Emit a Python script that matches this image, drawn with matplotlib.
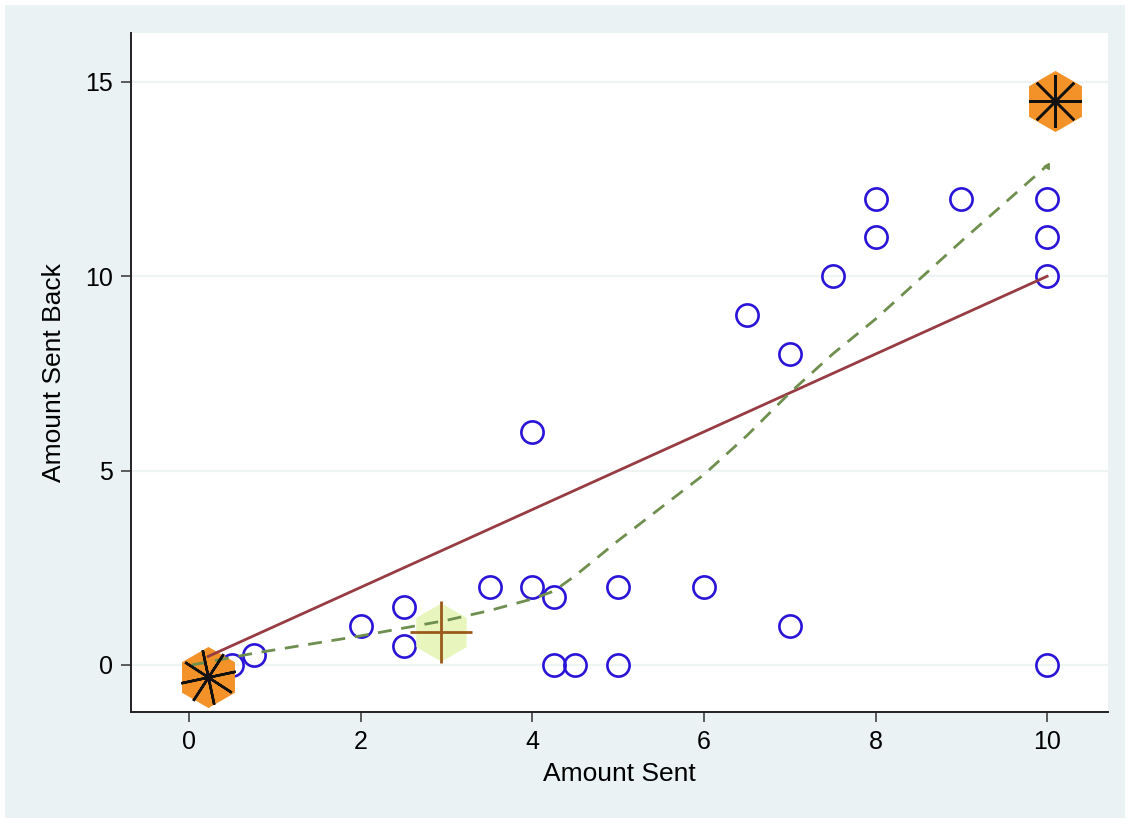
import matplotlib
matplotlib.use("Agg")
import matplotlib.pyplot as plt
from matplotlib.patches import Rectangle

plt.rcParams['font.family'] = ['Liberation Sans', 'DejaVu Sans']

# data
amount_sent = [0.5, 0.75, 2, 2.5, 2.5, 3.5, 4, 4, 4.25, 4.25, 4.5, 5, 5, 6, 6.5, 7, 7, 7.5, 8, 8, 9, 10, 10, 10, 10]
amount_back = [0, 0.25, 1, 1.5, 0.5, 2, 2, 6, 1.75, 0, 0, 2, 0, 2, 9, 8, 1, 10, 12, 11, 12, 12, 11, 10, 0]

fit_x = [0.22, 10]
fit_y = [0.22, 10]

smooth_x = [0.03, 0.75, 2.0, 2.5, 3.0, 3.5, 4.0, 4.25, 4.5, 5.0, 6.0, 6.5, 7.0, 7.5, 8.0, 9.0, 10.0]
smooth_y = [0.0, 0.3, 0.75, 0.95, 1.15, 1.4, 1.7, 1.9, 2.3, 3.2, 4.9, 5.9, 7.0, 8.0, 8.9, 10.9, 12.85]

orange_x = [0.22, 10.09]
orange_y = [-0.3, 14.5]
green_x = [2.93]
green_y = [0.85]

fig = plt.figure(figsize=(11.3, 8.23), dpi=100)
fig.patch.set_facecolor('white')
fig.patches.append(Rectangle((5/1130, 5/823), 1 - 10/1130, 1 - 10/823,
                             transform=fig.transFigure, facecolor='#eaf2f3',
                             edgecolor='none', zorder=-10))

ax = fig.add_axes([131/1130, 1 - 712/823, (1108 - 131)/1130, (712 - 33)/823])
ax.set_facecolor('white')

ax.set_xlim(-0.68, 10.71)
ax.set_ylim(-1.21, 16.26)

ax.set_yticks([0, 5, 10, 15])
ax.set_xticks([0, 2, 4, 6, 8, 10])
ax.yaxis.grid(True, color='#eef3f3', linewidth=1.6)
ax.set_axisbelow(True)

for s in ['top', 'right']:
    ax.spines[s].set_visible(False)
for s in ['left', 'bottom']:
    ax.spines[s].set_color('#222222')
    ax.spines[s].set_linewidth(1.4)

ax.tick_params(axis='both', direction='out', length=7, width=1.1, color='#333333',
               labelsize=18, pad=6)

# scatter circles
ax.plot(amount_sent, amount_back, linestyle='none', marker='o', markersize=16,
        markerfacecolor='none', markeredgecolor='#2a14d8', markeredgewidth=1.9, zorder=3)

# hexagons
ax.plot(orange_x, orange_y, linestyle='none', marker='h', markersize=44,
        markerfacecolor='#f39229', markeredgecolor='none', zorder=4)
ax.plot(green_x, green_y, linestyle='none', marker='h', markersize=42,
        markerfacecolor='#e8f6bd', markeredgecolor='none', zorder=4)

# lines
ax.plot(fit_x, fit_y, color='#963c42', linewidth=2.0, zorder=5)
ax.plot(smooth_x, smooth_y, color='#6e8f4d', linewidth=2.0, dashes=(5, 3.5), zorder=5)
ax.plot([smooth_x[-1]], [smooth_y[-1]], linestyle='none', marker=(3, 0, -30),
        markersize=5, color='#6e8f4d', zorder=5)

# symbols inside hexagons
ax.plot([orange_x[0]], [orange_y[0]], linestyle='none', marker=(8, 2, 12), markersize=40,
        markeredgecolor='#111111', markeredgewidth=1.8, zorder=6)
ax.plot([orange_x[1]], [orange_y[1]], linestyle='none', marker=(8, 2, 0), markersize=38,
        markeredgecolor='#111111', markeredgewidth=1.8, zorder=6)
ax.plot(green_x, green_y, linestyle='none', marker='+', markersize=44,
        markeredgecolor='#9a5a1c', markeredgewidth=2.0, zorder=6)

ax.set_xlabel('Amount Sent', fontsize=19, labelpad=6)
ax.set_ylabel('Amount Sent Back', fontsize=19, labelpad=14)

fig.savefig('out.png', dpi=100, facecolor=fig.get_facecolor())
